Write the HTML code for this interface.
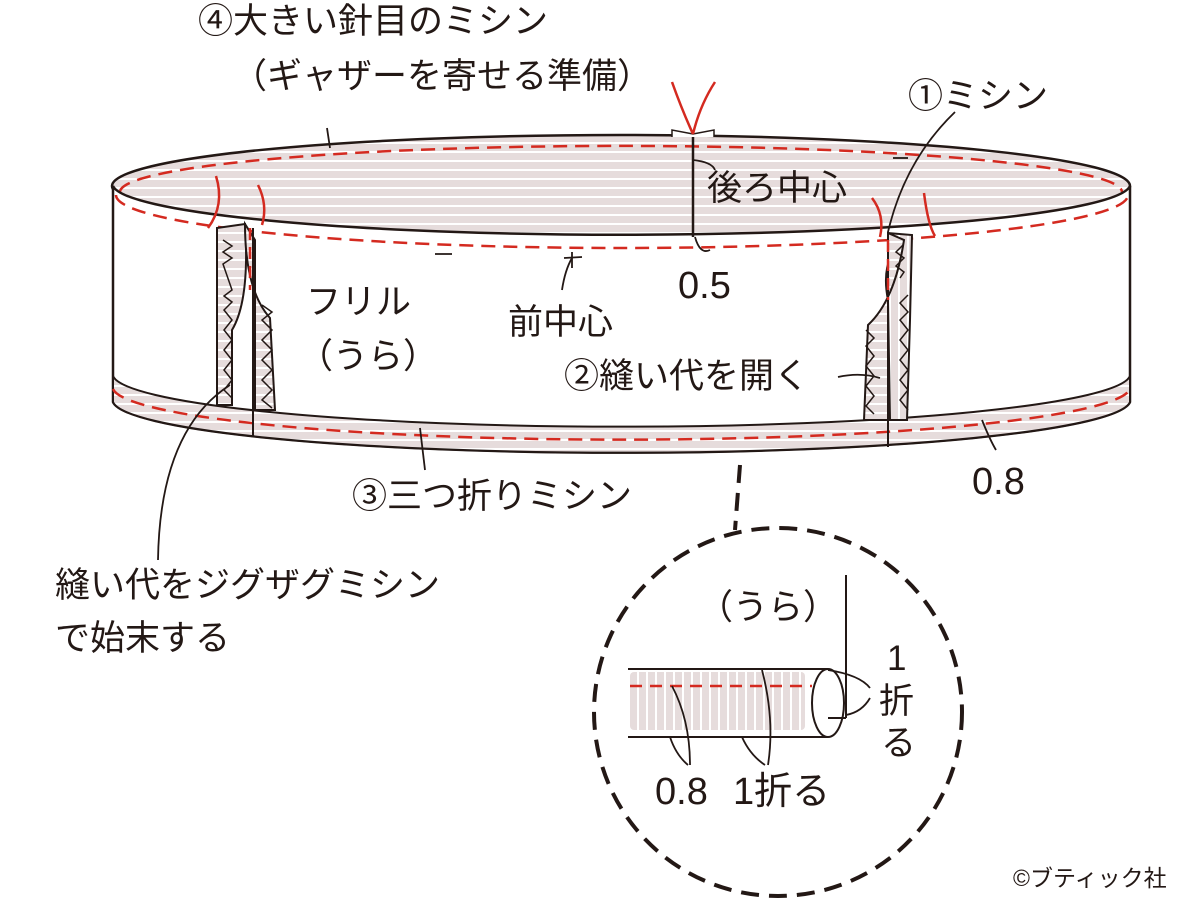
<!DOCTYPE html>
<html><head><meta charset="utf-8"><style>
html,body{margin:0;padding:0;background:#fff;}
svg{display:block;}
text{font-family:"Liberation Sans","Noto Sans CJK JP",sans-serif;fill:#231815;}
</style></head><body>
<svg width="1200" height="900" viewBox="0 0 1200 900" xmlns="http://www.w3.org/2000/svg">
<defs>
<pattern id="hs" width="10" height="9" patternUnits="userSpaceOnUse">
<rect width="10" height="9" fill="#e6dcdc"/><rect y="7" width="10" height="2" fill="#fff"/>
</pattern>
<pattern id="vs" width="9" height="10" patternUnits="userSpaceOnUse">
<rect width="9" height="10" fill="#e6dcdc"/><rect x="7" width="2" height="10" fill="#fff"/>
</pattern>
</defs>
<!-- inside ellipse -->
<ellipse cx="621" cy="186" rx="509" ry="51" fill="url(#hs)" stroke="#231815" stroke-width="2.5"/>
<path d="M120,192 A500,46 0 0 1 1122,192" fill="none" stroke="#d42a20" stroke-width="2.5" stroke-dasharray="14,8" />
<!-- front band -->
<path d="M113,186 A509,51 0 0 0 1130,186 L1130,402 A509,53 0 0 1 113,402 Z" fill="#fff" stroke="#231815" stroke-width="2.5"/>
<!-- hem strip -->
<path d="M113,376 A509,53 0 0 0 1130,376 L1130,402 A509,53 0 0 1 113,402 Z" fill="url(#hs)" stroke="#231815" stroke-width="2"/>
<path d="M113,389 A509,53 0 0 0 1130,389" fill="none" stroke="#d42a20" stroke-width="2.5" stroke-dasharray="14,8"/>
<!-- front dashed below rim -->
<path d="M116,195 A506,53 0 0 0 1128,195" fill="none" stroke="#d42a20" stroke-width="2.5" stroke-dasharray="14,8"/>
<!-- left seam allowances -->
<path d="M217,228 L245,224 Q250,300 232,330 L232,405 L217,405 Z" fill="url(#hs)" stroke="#231815" stroke-width="2"/>
<path d="M245,224 Q245,290 270,318 L275,410 L255,410 L255,240 Z" fill="url(#hs)" stroke="#231815" stroke-width="2"/>
<polyline points="223,240 232,246 223,252 232,258 223,264 232,290 224,296 232,302 224,310 232,320 224,330 232,340 224,350 232,360 224,370 232,380 224,390 232,398" fill="none" stroke="#231815" stroke-width="1.5"/>
<polyline points="262,305 272,312 262,320 272,330 262,340 272,350 262,360 272,370 262,380 272,390 262,400 272,408" fill="none" stroke="#231815" stroke-width="1.5"/>
<line x1="253" y1="228" x2="253" y2="437" stroke="#231815" stroke-width="2"/>
<line x1="250" y1="228" x2="250" y2="290" stroke="#d42a20" stroke-width="2.5" stroke-dasharray="12,7"/>
<!-- right seam allowances -->
<path d="M888,233 L912,235 L910,320 L907,420 L890,420 L888,300 Q880,260 903,240 Z" fill="url(#vs)" stroke="#231815" stroke-width="2"/>
<path d="M888,233 L904,240 Q895,300 868,325 L864,420 L888,420 Z" fill="url(#hs)" stroke="#231815" stroke-width="2"/>
<polyline points="903,245 896,252 904,258 896,266 904,272 900,278" fill="none" stroke="#231815" stroke-width="1.5"/>
<polyline points="908,295 900,303 908,312 900,320 908,330 900,340 908,350 900,360 908,370 900,380 908,390 900,400 908,410" fill="none" stroke="#231815" stroke-width="1.5"/>
<polyline points="866,330 874,338 866,346 874,356 866,366 874,376 866,386 874,396 866,406 874,414" fill="none" stroke="#231815" stroke-width="1.5"/>
<line x1="888" y1="232" x2="888" y2="447" stroke="#231815" stroke-width="2"/>
<line x1="888" y1="240" x2="888" y2="300" stroke="#d42a20" stroke-width="2.5" stroke-dasharray="12,7"/>
<!-- back center -->
<line x1="693" y1="135" x2="693" y2="237" stroke="#231815" stroke-width="2.5"/>
<path d="M672,137 L672,130 L693,134 L714,130 L714,137" fill="#fff" stroke="#231815" stroke-width="1.5"/>
<path d="M693,134 Q682,110 672,82 M693,134 Q700,105 715,82" fill="none" stroke="#d42a20" stroke-width="2.5"/>
<!-- red thread ends -->
<g fill="none" stroke="#d42a20" stroke-width="2.5">
<path d="M216,176 Q225,205 208,228"/><path d="M258,185 Q268,205 262,225"/>
<path d="M872,198 Q885,215 880,237"/><path d="M924,193 Q928,225 935,236"/>
</g>
<!-- small marks -->
<g stroke="#231815" stroke-width="1.8" fill="none">
<line x1="435" y1="254" x2="452" y2="254"/><line x1="893" y1="158" x2="908" y2="158"/>
<line x1="572" y1="252" x2="572" y2="268"/><line x1="564" y1="258" x2="582" y2="257"/>
<path d="M572,258 Q565,270 562,290"/>
<path d="M327,128 L330,148"/>
<path d="M693,160 Q712,162 715,170"/>
<path d="M695,237 Q700,255 710,250"/>
<path d="M955,112 Q905,160 888,232"/>
<path d="M838,377 Q860,372 880,378"/>
<path d="M982,420 Q990,440 996,450"/>
<path d="M420,428 L425,470"/>
<path d="M230,385 Q160,430 158,560"/>
</g>
<!-- labels -->
<g font-size="35">
<text x="198" y="33">④大きい針目のミシン</text>
<text x="232" y="88">（ギャザーを寄せる準備）</text>
<text x="908" y="108">①ミシン</text>
<text x="707" y="200">後ろ中心</text>
<text x="678" y="298" font-size="38">0.5</text>
<text x="306" y="314">フリル</text>
<text x="298" y="368">（うら）</text>
<text x="508" y="334">前中心</text>
<text x="564" y="388">②縫い代を開く</text>
<text x="972" y="494" font-size="38">0.8</text>
<text x="352" y="508">③三つ折りミシン</text>
<text x="55" y="597">縫い代をジグザグミシン</text>
<text x="55" y="650">で始末する</text>
</g>
<!-- detail circle -->
<line x1="740" y1="465" x2="735" y2="530" stroke="#231815" stroke-width="4" stroke-dasharray="18,10"/>
<circle cx="778" cy="712" r="184" fill="none" stroke="#231815" stroke-width="4" stroke-dasharray="18,10"/>
<rect x="630" y="672" width="175" height="58" rx="4" fill="url(#vs)"/>
<line x1="628" y1="669" x2="828" y2="669" stroke="#231815" stroke-width="2"/>
<line x1="628" y1="737" x2="828" y2="737" stroke="#231815" stroke-width="2"/>
<line x1="630" y1="686" x2="812" y2="686" stroke="#d42a20" stroke-width="2.5" stroke-dasharray="12,8"/>
<ellipse cx="828" cy="703" rx="16" ry="34" fill="#fff" stroke="#231815" stroke-width="2"/>
<line x1="846" y1="575" x2="846" y2="718" stroke="#231815" stroke-width="2"/>
<line x1="828" y1="718" x2="846" y2="718" stroke="#231815" stroke-width="2"/>
<g stroke="#231815" stroke-width="1.8" fill="none">
<path d="M828,670 Q860,675 870,688"/><path d="M846,715 Q862,712 870,698"/>
<path d="M672,686 Q690,720 690,765"/><path d="M670,737 Q676,755 688,765"/>
<path d="M762,670 Q775,720 768,765"/><path d="M742,737 Q750,755 765,765"/>
</g>
<g font-size="35">
<text x="698" y="619">（うら）</text>
<text x="887" y="670">1</text>
<text x="879" y="713">折</text>
<text x="881" y="755">る</text>
<text x="655" y="804" font-size="38">0.8</text>
<text x="733" y="804" font-size="38">1折る</text>
</g>
<text x="1013" y="886" font-size="23">©ブティック社</text>
</svg>
</body></html>
